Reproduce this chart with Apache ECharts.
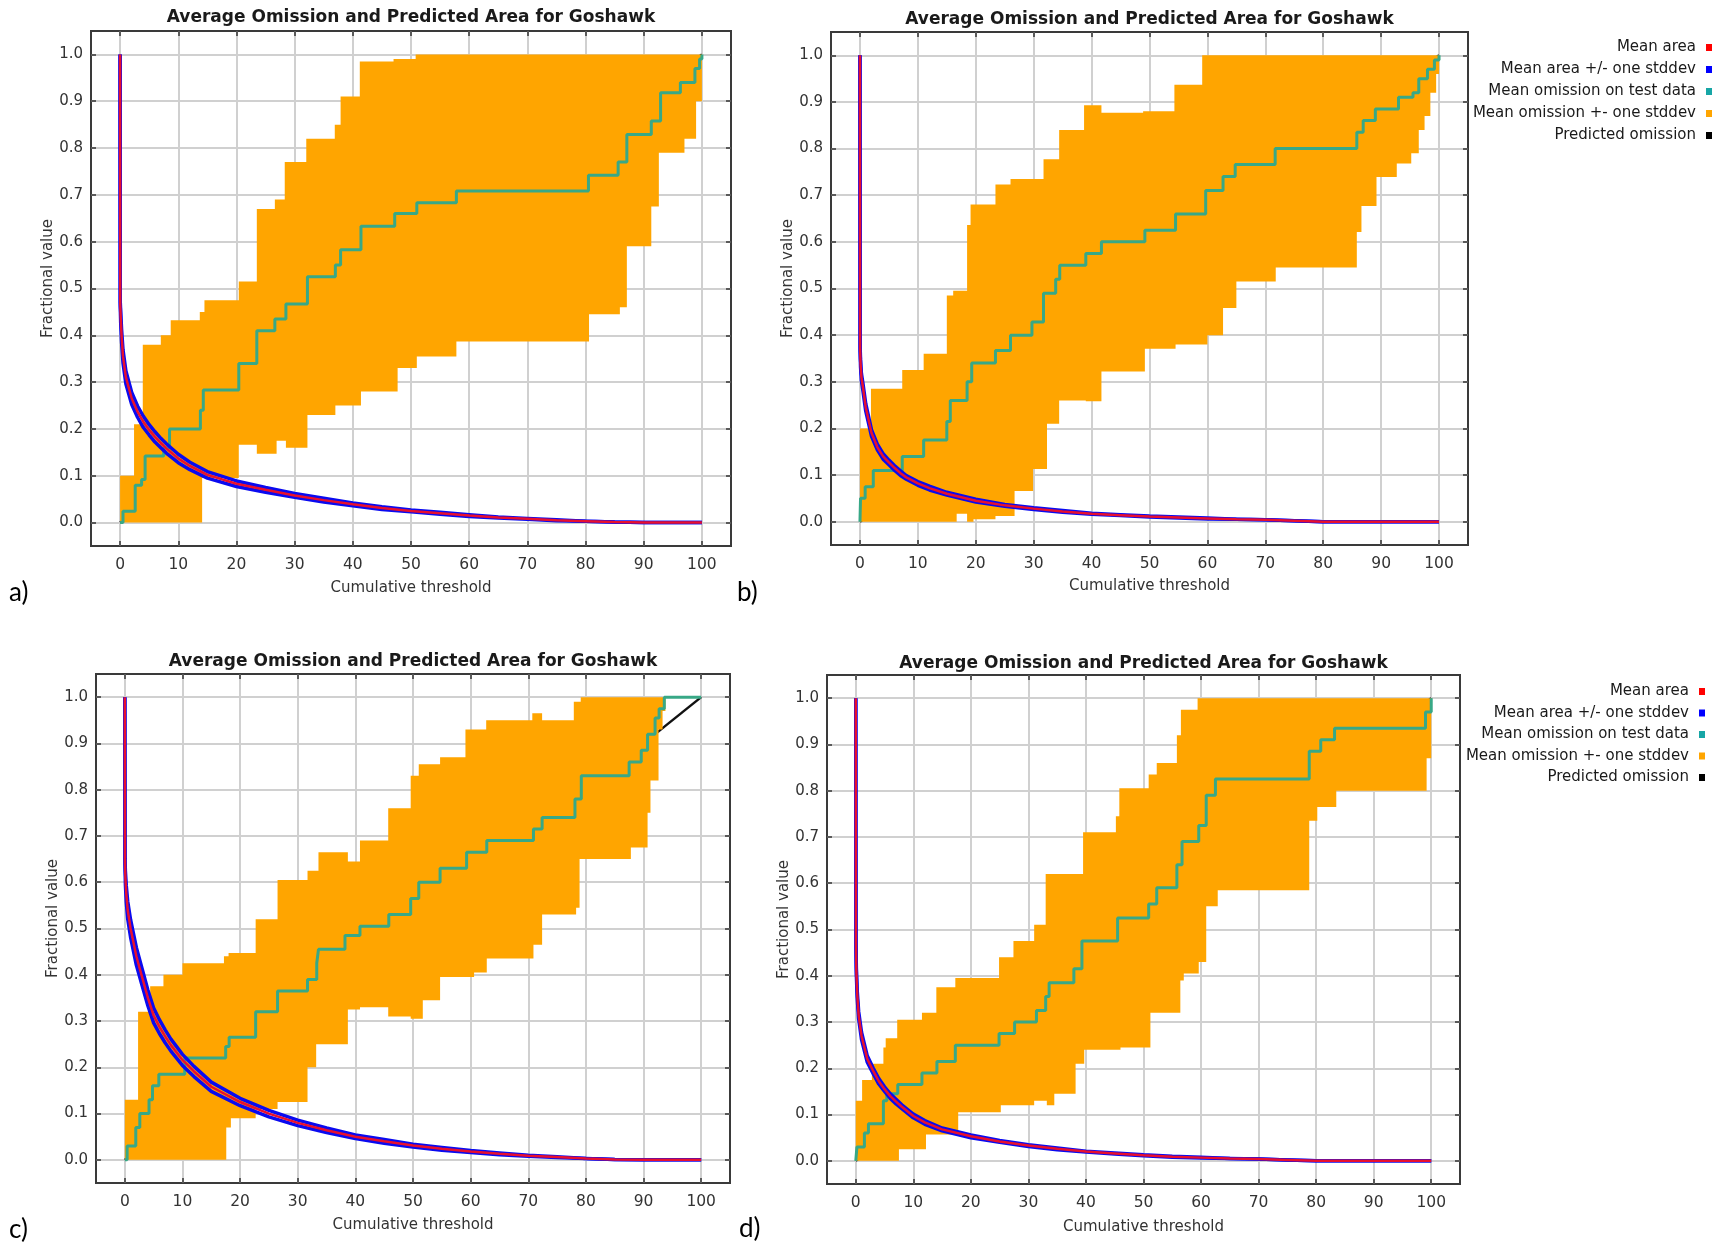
<!DOCTYPE html>
<html><head><meta charset="utf-8">
<script src="https://cdn.jsdelivr.net/npm/echarts@6/dist/echarts.min.js"></script>
<style>html,body{margin:0;padding:0;background:#fff}#c{width:1718px;height:1245px}</style>
</head><body><div id="c"></div>
<script>
// ---------------- DATA ----------------
const chartTitle = 'Average Omission and Predicted Area for Goshawk';
const xAxisName = 'Cumulative threshold';
const yAxisName = 'Fractional value';
const panelLetters = ['a)', 'b)', 'c)', 'd)'];
const legendNames = ['Mean area', 'Mean area +/- one stddev', 'Mean omission on test data', 'Mean omission +- one stddev', 'Predicted omission'];
const xTicks = [0, 10, 20, 30, 40, 50, 60, 70, 80, 90, 100];
const yTicks = [0, 0.1, 0.2, 0.3, 0.4, 0.5, 0.6, 0.7, 0.8, 0.9, 1.0];

// mean predicted area curves (x = cumulative threshold)
const areaX = [0, 0.03, 0.1, 0.25, 0.5, 1, 2, 3, 4, 5, 6, 7, 8, 10, 12, 15, 20, 25, 30, 35, 40, 45, 50, 55, 60, 65, 70, 75, 80, 85, 90, 100];
const aAreaMean = [1.0, 0.466, 0.44, 0.40, 0.355, 0.31, 0.265, 0.237, 0.215, 0.198, 0.183, 0.17, 0.158, 0.137, 0.121, 0.102, 0.083, 0.07, 0.058, 0.048, 0.039, 0.031, 0.025, 0.02, 0.015, 0.011, 0.008, 0.005, 0.003, 0.001, 0, 0];
const aAreaSd = [0, 0.005, 0.012, 0.014, 0.014, 0.014, 0.013, 0.012, 0.012, 0.011, 0.011, 0.01, 0.01, 0.009, 0.008, 0.007, 0.006, 0.005, 0.004, 0.004, 0.003, 0.003, 0.002, 0.002, 0.002, 0.001, 0.001, 0.001, 0, 0, 0, 0];
const bAreaMean = [1.0, 0.37, 0.34, 0.31, 0.29, 0.245, 0.19, 0.16, 0.14, 0.127, 0.115, 0.104, 0.095, 0.082, 0.072, 0.06, 0.045, 0.035, 0.028, 0.022, 0.017, 0.014, 0.011, 0.009, 0.007, 0.005, 0.004, 0.002, 0, 0, 0, 0];
const bAreaSd = [0, 0.004, 0.008, 0.008, 0.008, 0.008, 0.007, 0.006, 0.006, 0.005, 0.005, 0.005, 0.004, 0.004, 0.004, 0.003, 0.003, 0.002, 0.002, 0.002, 0.001, 0.001, 0.001, 0.001, 0.001, 0, 0, 0, 0, 0, 0, 0];
const cAreaMean = [1.0, 0.645, 0.61, 0.575, 0.54, 0.5, 0.44, 0.395, 0.35, 0.312, 0.288, 0.267, 0.248, 0.216, 0.191, 0.158, 0.125, 0.1, 0.08, 0.064, 0.05, 0.04, 0.031, 0.024, 0.018, 0.013, 0.009, 0.006, 0.003, 0.001, 0, 0];
const cAreaSd = [0, 0.006, 0.014, 0.018, 0.019, 0.019, 0.019, 0.018, 0.017, 0.016, 0.015, 0.014, 0.013, 0.012, 0.011, 0.01, 0.008, 0.007, 0.006, 0.005, 0.004, 0.004, 0.003, 0.003, 0.002, 0.002, 0.001, 0.001, 0, 0, 0, 0];
const dAreaMean = [1.0, 0.47, 0.41, 0.36, 0.315, 0.27, 0.22, 0.195, 0.172, 0.155, 0.14, 0.128, 0.117, 0.097, 0.083, 0.068, 0.053, 0.042, 0.033, 0.026, 0.02, 0.016, 0.012, 0.009, 0.007, 0.005, 0.004, 0.002, 0, 0, 0, 0];
const dAreaSd = [0, 0.004, 0.008, 0.008, 0.008, 0.008, 0.007, 0.006, 0.006, 0.005, 0.005, 0.005, 0.004, 0.004, 0.004, 0.003, 0.003, 0.002, 0.002, 0.002, 0.001, 0.001, 0.001, 0.001, 0.001, 0, 0, 0, 0, 0, 0, 0];

// mean omission on test data: [threshold where level starts, level]
const aTest = [[0,0],[0.5,0.024],[2.6,0.08],[3.7,0.092],[4.3,0.142],[7.5,0.16],[8.5,0.2],[13.8,0.24],[14.3,0.283],[20.4,0.34],[23.5,0.41],[26.6,0.435],[28.5,0.467],[32.2,0.525],[37,0.55],[37.9,0.583],[41.4,0.633],[47.2,0.66],[51,0.683],[57.8,0.708],[80.5,0.742],[85.6,0.77],[87.1,0.829],[91.3,0.858],[92.9,0.918],[96.3,0.94],[98.8,0.97],[99.6,0.99],[100,1.0]];
const bTest = [[0,0],[0.1,0.05],[0.9,0.075],[2.3,0.11],[7.3,0.14],[11,0.175],[15,0.215],[15.6,0.26],[18.5,0.3],[19.3,0.34],[23.4,0.367],[26,0.4],[29.7,0.428],[31.7,0.49],[33.8,0.52],[34.5,0.55],[39,0.575],[41.7,0.6],[49.2,0.625],[54.5,0.66],[59.7,0.71],[62.7,0.74],[64.8,0.766],[71.7,0.8],[85.8,0.835],[86.9,0.86],[89,0.885],[93,0.91],[95.5,0.92],[96.5,0.95],[98,0.97],[99.2,0.99],[100,1.0]];
const cTest = [[0,0],[0.4,0.03],[1.9,0.07],[2.6,0.1],[4.2,0.13],[4.8,0.16],[5.9,0.185],[10.4,0.22],[17.5,0.245],[18.1,0.265],[22.7,0.32],[26.5,0.365],[31.7,0.39],[33.3,0.425],[33.6,0.455],[38.2,0.485],[40.8,0.505],[45.8,0.53],[49.6,0.565],[51,0.6],[54.7,0.63],[59.3,0.665],[62.8,0.69],[70.9,0.715],[72.4,0.74],[78.1,0.78],[79.2,0.83],[87.5,0.86],[89.6,0.885],[90.7,0.92],[92,0.955],[92.7,0.975],[93.6,1.0],[100,1.0]];
const dTest = [[0,0],[0.2,0.03],[1.5,0.06],[2.2,0.08],[4.8,0.13],[5.4,0.145],[7.3,0.165],[11.5,0.19],[14.1,0.215],[17.3,0.25],[24.9,0.275],[27.6,0.3],[31.4,0.325],[33,0.355],[33.6,0.385],[37.9,0.415],[39.3,0.475],[45.5,0.525],[50.9,0.555],[52.3,0.59],[55.8,0.64],[56.7,0.69],[59.6,0.725],[60.9,0.79],[62.5,0.825],[78.8,0.885],[80.8,0.91],[83.2,0.935],[99,0.97],[100,1.0]];

// mean omission +- one stddev band edges: [threshold where level starts, level]
const aBandHi = [[0,0.1],[2.4,0.21],[3.9,0.38],[7,0.4],[8.7,0.432],[13.7,0.45],[14.5,0.475],[20.4,0.515],[23.5,0.67],[26.6,0.69],[28.3,0.77],[32,0.82],[36.9,0.85],[37.9,0.91],[41.2,0.985],[47,0.99],[50.8,1.0],[100,1.0]];
const aBandLo = [[0,0],[14.1,0.095],[20.4,0.166],[23.5,0.147],[26.9,0.175],[28.5,0.16],[32.2,0.23],[37,0.25],[41.4,0.28],[47.7,0.33],[51,0.355],[57.8,0.387],[80.6,0.445],[85.9,0.46],[87.1,0.59],[91.3,0.675],[92.6,0.79],[97,0.82],[99,0.9],[100,1.0]];
const bBandHi = [[0,0.2],[1.9,0.285],[7.3,0.325],[11,0.36],[15,0.485],[16.1,0.495],[18.5,0.636],[19.1,0.68],[23.4,0.723],[26,0.735],[31.7,0.777],[34.4,0.84],[38.7,0.893],[41.7,0.877],[48.9,0.88],[54.3,0.937],[59.1,1.0],[100,1.0]];
const bBandLo = [[0,0],[16.7,0.017],[18.5,0],[19.6,0.005],[23.4,0.012],[26.7,0.066],[29.9,0.113],[32.3,0.21],[34.4,0.26],[39,0.258],[41.7,0.322],[49.2,0.371],[54.5,0.38],[60,0.4],[62.7,0.458],[65,0.515],[71.8,0.545],[85.8,0.621],[86.6,0.677],[89.2,0.739],[92.7,0.768],[95.2,0.79],[96.5,0.84],[97.5,0.87],[98.5,0.92],[99.5,0.96],[100,1.0]];
const cBandHi = [[0,0.13],[2.3,0.32],[4.4,0.375],[6.7,0.4],[10,0.425],[17.2,0.44],[18,0.447],[22.7,0.52],[26.5,0.605],[31.7,0.625],[33.6,0.665],[38.7,0.645],[40.8,0.69],[45.7,0.76],[49.6,0.83],[51,0.855],[54.7,0.87],[59.1,0.93],[62.7,0.95],[70.7,0.965],[72.4,0.95],[77.9,0.99],[79.1,1.0],[93.8,1.0]];
const cBandLo = [[0,0],[17.6,0.07],[18.4,0.09],[22.7,0.11],[26.5,0.125],[31.7,0.2],[33.2,0.25],[38.7,0.325],[40.8,0.33],[45.7,0.31],[49.6,0.305],[51.7,0.345],[54.7,0.395],[60.6,0.405],[62.8,0.435],[70.9,0.465],[72.4,0.53],[78.3,0.545],[78.9,0.65],[87.8,0.675],[90.7,0.75],[91.2,0.82],[92.6,0.93],[93.3,0.97],[93.8,1.0]];
const dBandHi = [[0,0.13],[1.1,0.175],[2.8,0.21],[4.8,0.245],[5.2,0.265],[7.2,0.305],[11.5,0.32],[14,0.375],[17.3,0.395],[24.9,0.44],[27.4,0.475],[31,0.51],[33,0.62],[39.5,0.71],[45.2,0.745],[45.8,0.805],[50.9,0.835],[52.3,0.86],[55.8,0.92],[56.5,0.975],[59.4,1.0],[100,1.0]];
const dBandLo = [[0,0],[7.5,0.025],[12.2,0.057],[17.8,0.105],[25.2,0.12],[31,0.13],[33.2,0.12],[34.5,0.145],[38.2,0.21],[39.7,0.24],[46,0.245],[51.2,0.32],[56.4,0.39],[57,0.405],[59.6,0.43],[60.9,0.55],[62.9,0.585],[78.8,0.735],[80.2,0.765],[83.5,0.8],[99.2,0.87],[100,1.0]];

// predicted omission (straight line)
const predX = [0, 100];
const predY = [0, 1];

// ---------------- LAYOUT / STYLE ----------------
const FONT = 'DejaVu Sans';
const grids = [
  {left: 91, top: 31, width: 640, height: 515},
  {left: 831, top: 32, width: 637, height: 513},
  {left: 96, top: 674, width: 634, height: 509},
  {left: 827, top: 675, width: 633, height: 509}
];
const titleTops = [9, 11, 653, 655];
const xNameGaps = [35, 34, 35, 36];
const yNameGaps = [34, 34, 32, 32];
const letterPos = [[9, 593], [737, 593], [9, 1230], [739, 1229]];
const legendPanels = [{panel: 1, right: 6, rows: [47.5, 69.5, 91.5, 113.5, 135.5]},
                      {panel: 3, right: 13, rows: [691.5, 713, 734.5, 756, 777.5]}];
const legendColors = ['#ff0000', '#0000ff', '#17a6a6', '#ffa500', '#000000'];
const COL = {red: '#e8102e', blue: '#0a0af0', green: '#38a886', orange: '#ffa500', black: '#111111'};

const panels = [
  {mean: aAreaMean, sd: aAreaSd, test: aTest, hi: aBandHi, lo: aBandLo},
  {mean: bAreaMean, sd: bAreaSd, test: bTest, hi: bBandHi, lo: bBandLo},
  {mean: cAreaMean, sd: cAreaSd, test: cTest, hi: cBandHi, lo: cBandLo},
  {mean: dAreaMean, sd: dAreaSd, test: dTest, hi: dBandHi, lo: dBandLo}
];

function stepPoints(list) {
  const pts = [];
  for (let i = 0; i < list.length; i++) {
    if (i > 0) pts.push([list[i][0], list[i - 1][1]]);
    pts.push([list[i][0], list[i][1]]);
  }
  return pts;
}

const option = {animation: false, backgroundColor: '#ffffff',
  title: [], grid: [], xAxis: [], yAxis: [], series: [], legend: [], graphic: []};

const tickStyle = {show: true, inside: true, length: 5, lineStyle: {color: '#333', width: 1.5}};
const splitStyle = {show: true, lineStyle: {color: '#d0d0d0', width: 2}};

panels.forEach((p, k) => {
  const g = grids[k];
  option.grid.push(Object.assign({show: true, borderColor: '#3a3a3a', borderWidth: 2, backgroundColor: '#fff'}, g));
  option.title.push({text: chartTitle, left: g.left + g.width / 2, top: titleTops[k], textAlign: 'center', padding: 0,
    textStyle: {fontFamily: FONT, fontWeight: 'bold', fontSize: 17, color: '#1a1a1a'}});
  option.xAxis.push({type: 'value', gridIndex: k, min: -5, max: 105, position: 'bottom',
    name: xAxisName, nameLocation: 'middle', nameGap: xNameGaps[k],
    nameTextStyle: {fontFamily: FONT, fontSize: 15, color: '#333'},
    axisLine: {show: false, onZero: false},
    axisTick: Object.assign({customValues: xTicks}, tickStyle),
    axisLabel: {customValues: xTicks, margin: 11, fontFamily: FONT, fontSize: 15.5, color: '#333'},
    splitLine: splitStyle});
  option.xAxis.push({type: 'value', gridIndex: k, min: -5, max: 105, position: 'top',
    axisLine: {show: false, onZero: false},
    axisTick: Object.assign({customValues: xTicks}, tickStyle),
    axisLabel: {show: false}, splitLine: {show: false}});
  option.yAxis.push({type: 'value', gridIndex: k, min: -0.05, max: 1.05, position: 'left',
    name: yAxisName, nameLocation: 'middle', nameGap: yNameGaps[k],
    nameTextStyle: {fontFamily: FONT, fontSize: 15, color: '#333', padding: [0, 0, 0, 20]},
    axisLine: {show: false, onZero: false},
    axisTick: Object.assign({customValues: yTicks}, tickStyle),
    axisLabel: {customValues: yTicks, margin: 8, fontFamily: FONT, fontSize: 15, color: '#333',
      formatter: v => v.toFixed(1)},
    splitLine: splitStyle});
  option.yAxis.push({type: 'value', gridIndex: k, min: -0.05, max: 1.05, position: 'right',
    axisLine: {show: false, onZero: false},
    axisTick: Object.assign({customValues: yTicks}, tickStyle),
    axisLabel: {show: false}, splitLine: {show: false}});

  const xi = 2 * k, yi = 2 * k;
  option.series.push({type: 'line', name: legendNames[4], xAxisIndex: xi, yAxisIndex: yi,
    data: predX.map((x, i) => [x, predY[i]]), symbol: 'none', z: 1,
    lineStyle: {color: COL.black, width: 2.5}, itemStyle: {color: COL.black}});
  option.series.push({type: 'custom', name: legendNames[3], xAxisIndex: xi, yAxisIndex: yi,
    data: [[0, 0]], z: 2, silent: true, itemStyle: {color: COL.orange},
    renderItem: (params, api) => {
      const pts = stepPoints(p.hi).concat(stepPoints(p.lo).reverse()).map(q => api.coord(q));
      return {type: 'polygon', shape: {points: pts}, style: {fill: COL.orange}};
    }});
  option.series.push({type: 'line', name: legendNames[2], xAxisIndex: xi, yAxisIndex: yi,
    data: p.test, step: 'end', symbol: 'none', z: 3,
    lineStyle: {color: COL.green, width: 3}, itemStyle: {color: COL.green}});
  option.series.push({type: 'line', name: legendNames[1], xAxisIndex: xi, yAxisIndex: yi,
    data: areaX.map((x, i) => [x, p.mean[i] + p.sd[i]]), symbol: 'none', z: 4,
    lineStyle: {color: COL.blue, width: 3.5}, itemStyle: {color: COL.blue}});
  option.series.push({type: 'line', name: legendNames[1], xAxisIndex: xi, yAxisIndex: yi,
    data: areaX.map((x, i) => [x, Math.max(0, p.mean[i] - p.sd[i])]), symbol: 'none', z: 4,
    lineStyle: {color: COL.blue, width: 3.5}, itemStyle: {color: COL.blue}});
  option.series.push({type: 'line', name: legendNames[0], xAxisIndex: xi, yAxisIndex: yi,
    data: areaX.map((x, i) => [x, p.mean[i]]), symbol: 'none', z: 5,
    lineStyle: {color: COL.red, width: 2.5}, itemStyle: {color: COL.red}});

  option.graphic.push({type: 'text', x: letterPos[k][0], y: letterPos[k][1],
    style: {text: panelLetters[k], fill: '#000', font: '26px Lato', verticalAlign: 'middle'}});
});

legendPanels.forEach(lp => {
  legendNames.forEach((nm, i) => {
    option.legend.push({right: lp.right, top: lp.rows[i] - 8, orient: 'vertical', align: 'right', padding: 0,
      itemWidth: 6, itemHeight: 7, selectedMode: false,
      textStyle: {fontFamily: FONT, fontSize: 15, color: '#1a1a1a', lineHeight: 16, padding: [0, 5, 0, 0]},
      data: [{name: nm, icon: 'rect', itemStyle: {color: legendColors[i], borderWidth: 0}}]});
  });
});

const chart = echarts.init(document.getElementById('c'), null, {renderer: 'canvas'});
chart.setOption(option);
</script></body></html>
